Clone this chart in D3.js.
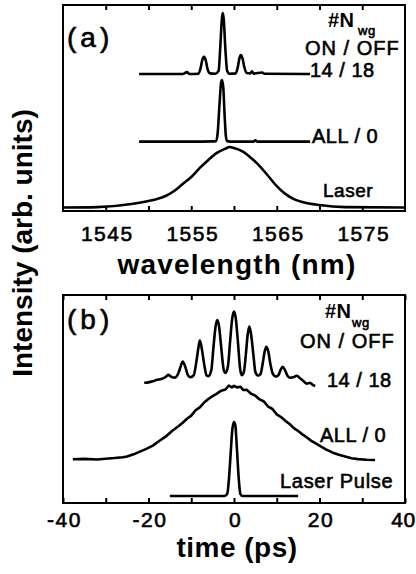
<!DOCTYPE html>
<html>
<head>
<meta charset="utf-8">
<script src="https://cdn.jsdelivr.net/npm/d3@7"></script>
<style>
  body { margin: 0; background: #fff; }
  svg { display: block; font-family: "Liberation Sans", Arial, sans-serif; }
</style>
</head>
<body>
<svg width="416" height="574"></svg>
<script>
// ---- panel (a): spectra, wavelength (nm) vs intensity (arb. units)
var laserWl = [1540, 1544, 1548, 1550, 1551, 1552, 1553, 1554, 1555, 1556, 1557, 1558, 1559, 1559.5,
               1560, 1561, 1562, 1563, 1564, 1565, 1566, 1567, 1568, 1570, 1573, 1580];
var laserI  = [1.7, 1.9, 3.4, 4.9, 5.8, 7.3, 9.7, 13.1, 16.5, 20.9, 24.8, 28.2, 30.3, 31.1,
               30.6, 28.9, 25.7, 21.8, 17.0, 12.1, 8.3, 5.8, 4.4, 2.9, 1.9, 1.7];

var allWl = [1548.9, 1555, 1557.5, 1557.9, 1558.1, 1558.3, 1558.5, 1558.6, 1558.75, 1558.9, 1559.05,
             1559.2, 1559.5, 1562.3, 1562.5, 1562.7, 1568.9];
var allI  = [33.7, 33.7, 33.8, 33.9, 38.3, 51.5, 62.6, 63.6, 59.7, 46.6, 36.4,
             34.0, 33.7, 33.7, 34.3, 33.7, 33.7];

var sel14Wl = [1548.9, 1554.0, 1554.5, 1554.8, 1555.8, 1556.1, 1556.3, 1556.5, 1556.7, 1556.9, 1557.2,
               1557.8, 1558.2, 1558.4, 1558.6, 1558.7, 1558.8, 1559.0, 1559.2, 1559.5, 1560.2, 1560.45,
               1560.65, 1560.8, 1561.0, 1561.2, 1561.5, 1561.9, 1562.1, 1562.3, 1563.3, 1563.6, 1568.9];
var sel14I  = [66.5, 66.5, 67.4, 66.5, 66.6, 69.5, 73.5, 74.8, 73.0, 69.0, 66.8,
               66.6, 68.0, 80.0, 94.0, 96.1, 93.0, 78.0, 68.0, 66.6, 66.8, 70.0,
               74.5, 75.7, 74.0, 70.0, 67.0, 66.8, 67.8, 66.7, 67.2, 66.6, 66.5];

var wlTicks  = [1545, 1550, 1555, 1560, 1565, 1570, 1575];
var wlLabels = [1545, 1555, 1565, 1575];

// ---- panel (b): pulses, time (ps) vs intensity (arb. units)
var pulseT = [-15, -2.2, -1.6, -1.2, -0.8, -0.4, 0, 0.3, 0.7, 1.1, 1.5, 2.0, 15];
var pulseI = [3.4, 3.4, 4.3, 11.1, 23.1, 35.1, 38.9, 37.5, 25.5, 12.0, 4.3, 3.4, 3.4];

var allT = [-37.7, -35, -32, -30, -28, -26, -25, -23.5, -22, -20.5, -19, -17.5, -16, -14.5, -13, -12,
            -11, -10, -9, -8, -7, -6, -5, -4, -3, -2, -1.2, -0.5, 0, 0.7, 1.5, 2.2, 3, 4, 5, 6, 7, 8,
            9, 10, 11, 12, 13, 14, 15, 16, 17, 18, 19, 20.2, 21.5, 23, 24.5, 26, 27.5, 29, 31, 33];
var allTI = [21.0, 21.2, 20.9, 21.3, 21.6, 22.0, 22.4, 23.4, 24.7, 26.0, 27.6, 29.8, 31.9, 34.6, 36.9, 38.6,
             40.5, 42.0, 44.6, 46.0, 48.3, 50.0, 51.4, 52.6, 54.0, 54.6, 56.5, 55.6, 56.3, 55.6, 55.9, 54.3,
             54.4, 52.5, 51.6, 49.8, 48.8, 46.3, 45.2, 42.6, 41.3, 39.5, 38.0, 36.0, 34.6, 33.0, 31.6, 30.0,
             28.8, 27.3, 25.8, 24.3, 23.2, 22.3, 21.5, 21.1, 20.8, 20.7];

var sel14T = [-21, -20, -19, -18, -17, -16, -15.4, -14.6, -13.8, -13, -12.5, -12, -11.4, -10.8, -10.2,
              -9.4, -8.8, -8.3, -8, -7.6, -7.0, -6.4, -6.0, -5.3, -4.8, -4.3, -3.9, -3.5, -3.0, -2.4,
              -2.0, -1.4, -0.9, -0.4, 0, 0.4, 0.9, 1.4, 1.8, 2.3, 2.8, 3.2, 3.6, 4.0, 4.5, 5.0, 5.6,
              6.2, 6.7, 7.2, 7.6, 8.0, 8.5, 9.1, 9.8, 10.4, 10.9, 11.4, 11.9, 12.5, 13.2, 13.8, 14.7,
              15.5, 16.3, 17, 17.8, 18.4, 19];
var sel14TI = [57.8, 58.0, 58.5, 59.2, 59.6, 60.6, 61.6, 60.6, 60.3, 62.5, 65.5, 68.0, 65.5, 61.5, 60.5,
               61.5, 68.0, 75.0, 78.1, 75.0, 67.0, 61.3, 61.0, 64.0, 75.0, 85.0, 88.0, 85.0, 75.0, 64.0,
               62.5, 66.0, 78.0, 89.0, 92.0, 89.0, 78.0, 65.0, 61.5, 63.0, 72.0, 81.0, 84.8, 81.0, 72.0,
               63.0, 61.3, 62.0, 67.0, 73.0, 75.1, 73.0, 67.0, 62.0, 60.8, 61.5, 64.0, 65.5, 64.0, 61.2,
               60.2, 60.4, 61.2, 59.8, 58.5, 57.4, 57.8, 56.8, 56.3];

var timeTicks  = [-40, -30, -20, -10, 0, 10, 20, 30, 40];
var timeLabels = [-40, -20, 0, 20, 40];

function zip(xs, ys) {
    return xs.map(function(v, i) { return [v, ys[i]]; });
}

var svg = d3.select("svg");

var left = 63, right = 405;

var xA = d3.scaleLinear().domain([1540, 1580]).range([left, right]);
var yA = d3.scaleLinear().domain([0, 100]).range([211, 5]);
var xB = d3.scaleLinear().domain([-40, 40]).range([left, right]);
var yB = d3.scaleLinear().domain([0, 100]).range([503, 295]);

// thin outline makes the regular face look as heavy as the scanned one
function heavy(sel, w) {
    return sel.attr("stroke", "#000").attr("stroke-width", w).attr("paint-order", "stroke");
}

function drawPanel(x, y, ticks, labels, labelY, title, titleY, titleSpacing) {
    var g = svg.append("g");
    var y0 = y.range()[0], y1 = y.range()[1];
    var lastTick = ticks[ticks.length - 1];

    // bottom axis, ticks pointing inside
    var bottom = g.append("g")
        .attr("transform", "translate(0," + y0 + ")")
        .call(d3.axisBottom(x).tickValues(ticks).tickSizeInner(-5).tickSizeOuter(0)
            .tickFormat(function(d) { return labels.indexOf(d) >= 0 ? d : ""; }));
    bottom.select(".domain").remove();
    bottom.selectAll("line").attr("stroke", "#000").attr("stroke-width", 2);
    heavy(bottom.selectAll("text")
        .attr("y", labelY).attr("dy", 0)
        .attr("dx", function(d) { return d === lastTick && x(d) > 400 ? -2 : 1; })
        .attr("font-size", 21)
        .attr("letter-spacing", function(d) { return d === lastTick && x(d) > 400 ? 0.5 : 1.5; })
        .attr("font-family", "Liberation Sans, Arial, sans-serif")
        .attr("fill", "#000"), 0.6);

    var top = g.append("g")
        .attr("transform", "translate(0," + y1 + ")")
        .call(d3.axisTop(x).tickValues(ticks).tickSizeInner(-5).tickSizeOuter(0).tickFormat(""));
    top.select(".domain").remove();
    top.selectAll("line").attr("stroke", "#000").attr("stroke-width", 2);

    // frame
    g.append("rect")
        .attr("x", x.range()[0]).attr("y", y1)
        .attr("width", x.range()[1] - x.range()[0]).attr("height", y0 - y1)
        .attr("fill", "none").attr("stroke", "#000").attr("stroke-width", 2);

    g.append("text")
        .attr("x", (x.range()[0] + x.range()[1]) / 2 + 3).attr("y", titleY)
        .attr("text-anchor", "middle")
        .attr("font-size", 28).attr("font-weight", "bold")
        .attr("letter-spacing", titleSpacing)
        .text(title);
    return g;
}

drawPanel(xA, yA, wlTicks, wlLabels, 30, "wavelength (nm)", 274, 1.2);
drawPanel(xB, yB, timeTicks, timeLabels, 24, "time (ps)", 557, 0.5);

function curve(x, y, pts, smooth) {
    var line = d3.line()
        .x(function(d) { return x(d[0]); })
        .y(function(d) { return y(d[1]); })
        .curve(smooth ? d3.curveMonotoneX : d3.curveLinear);
    svg.append("path")
        .datum(pts)
        .attr("d", line)
        .attr("fill", "none")
        .attr("stroke", "#000")
        .attr("stroke-width", 2.6)
        .attr("stroke-linejoin", "round");
}

curve(xA, yA, zip(laserWl, laserI), true);
curve(xA, yA, zip(allWl, allI), true);
curve(xA, yA, zip(sel14Wl, sel14I), true);

curve(xB, yB, zip(pulseT, pulseI), true);
curve(xB, yB, zip(allT, allTI), false);
curve(xB, yB, zip(sel14T, sel14TI), true);

// text labels
function label(x, y, txt, size, weight, spacing) {
    var t = svg.append("text")
        .attr("x", x).attr("y", y)
        .attr("font-size", size)
        .attr("font-weight", weight || "normal")
        .attr("letter-spacing", spacing || 0.5)
        .text(txt);
    if (weight !== "bold") heavy(t, 0.6);
}

label(67, 47, "(a)", 28, "normal", 4);
label(67, 329, "(b)", 28, "normal", 4);

label(328, 27, "#N", 20, "bold", 0);
label(358, 35, "wg", 13, "normal", 0);
label(305, 55, "ON / OFF", 20, "normal", 1);
label(310, 77, "14 / 18", 20, "normal", 0);
label(312, 143, "ALL / 0", 20, "normal", 0.5);
label(323, 197, "Laser", 19, "normal", 0.5);

label(325, 318, "#N", 20, "bold", 0);
label(352, 327, "wg", 13, "normal", 0);
label(300, 348, "ON / OFF", 20, "normal", 1);
label(327, 387, "14 / 18", 20, "normal", 0);
label(320, 442, "ALL / 0", 20, "normal", 0.5);
label(280, 488, "Laser Pulse", 20, "normal", 0.7);

// y axis title shared by both panels
svg.append("text")
    .attr("transform", "translate(32,243) rotate(-90)")
    .attr("text-anchor", "middle")
    .attr("font-size", 28)
    .attr("font-weight", "bold")
    .text("Intensity (arb. units)");
</script>
</body>
</html>
